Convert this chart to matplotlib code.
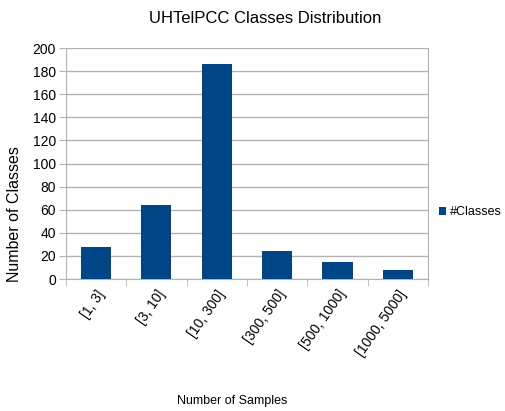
import matplotlib.pyplot as plt
import numpy as np

plt.rcParams['font.family'] = ['Liberation Sans', 'DejaVu Sans']

categories = ['[1, 3]', '[3, 10]', '[10, 300]', '[300, 500]', '[500, 1000]', '[1000, 5000]']
num_classes = [28, 64, 186, 24, 15, 8]

fig = plt.figure(figsize=(5.06, 4.11), dpi=100)
ax = fig.add_axes([0.130, 0.321, 0.716, 0.562])

x = np.arange(len(categories))
ax.bar(x, num_classes, width=0.5, color='#004586', label='#Classes', zorder=3)

ax.set_xlim(-0.5, len(categories) - 0.5)
ax.set_ylim(0, 200)
ax.set_yticks(range(0, 201, 20))
ax.yaxis.grid(True, color='#b3b3b3', linewidth=1, zorder=0)

ax.set_xticks(x)
ax.set_xticklabels(categories, rotation=55, ha='right', rotation_mode='anchor', fontsize=10)
ax.set_xticks(np.arange(-0.5, len(categories)), minor=True)
ax.tick_params(axis='x', which='major', length=0, pad=6)
ax.tick_params(axis='x', which='minor', length=5, color='#b3b3b3', direction='out')
ax.tick_params(axis='y', length=5, color='#b3b3b3', labelsize=10, pad=2)

ax.spines['top'].set_visible(False)
for side in ['left', 'right', 'bottom']:
    ax.spines[side].set_color('#b3b3b3')

fig.text(0.525, 0.955, 'UHTelPCC Classes Distribution', fontsize=12, ha='center', va='center')
ax.set_ylabel('Number of Classes', fontsize=11.5)
ax.yaxis.set_label_coords(-0.12, 0.28)
ax.set_xlabel('Number of Samples', fontsize=9)
ax.xaxis.set_label_coords(0.46, -0.50)

ax.legend(loc='center left', bbox_to_anchor=(1.03, 0.29), frameon=False,
          borderpad=0, borderaxespad=0,
          fontsize=9, handlelength=0.6, handleheight=0.6, handletextpad=0.3)

fig.savefig('out.png', dpi=100)
